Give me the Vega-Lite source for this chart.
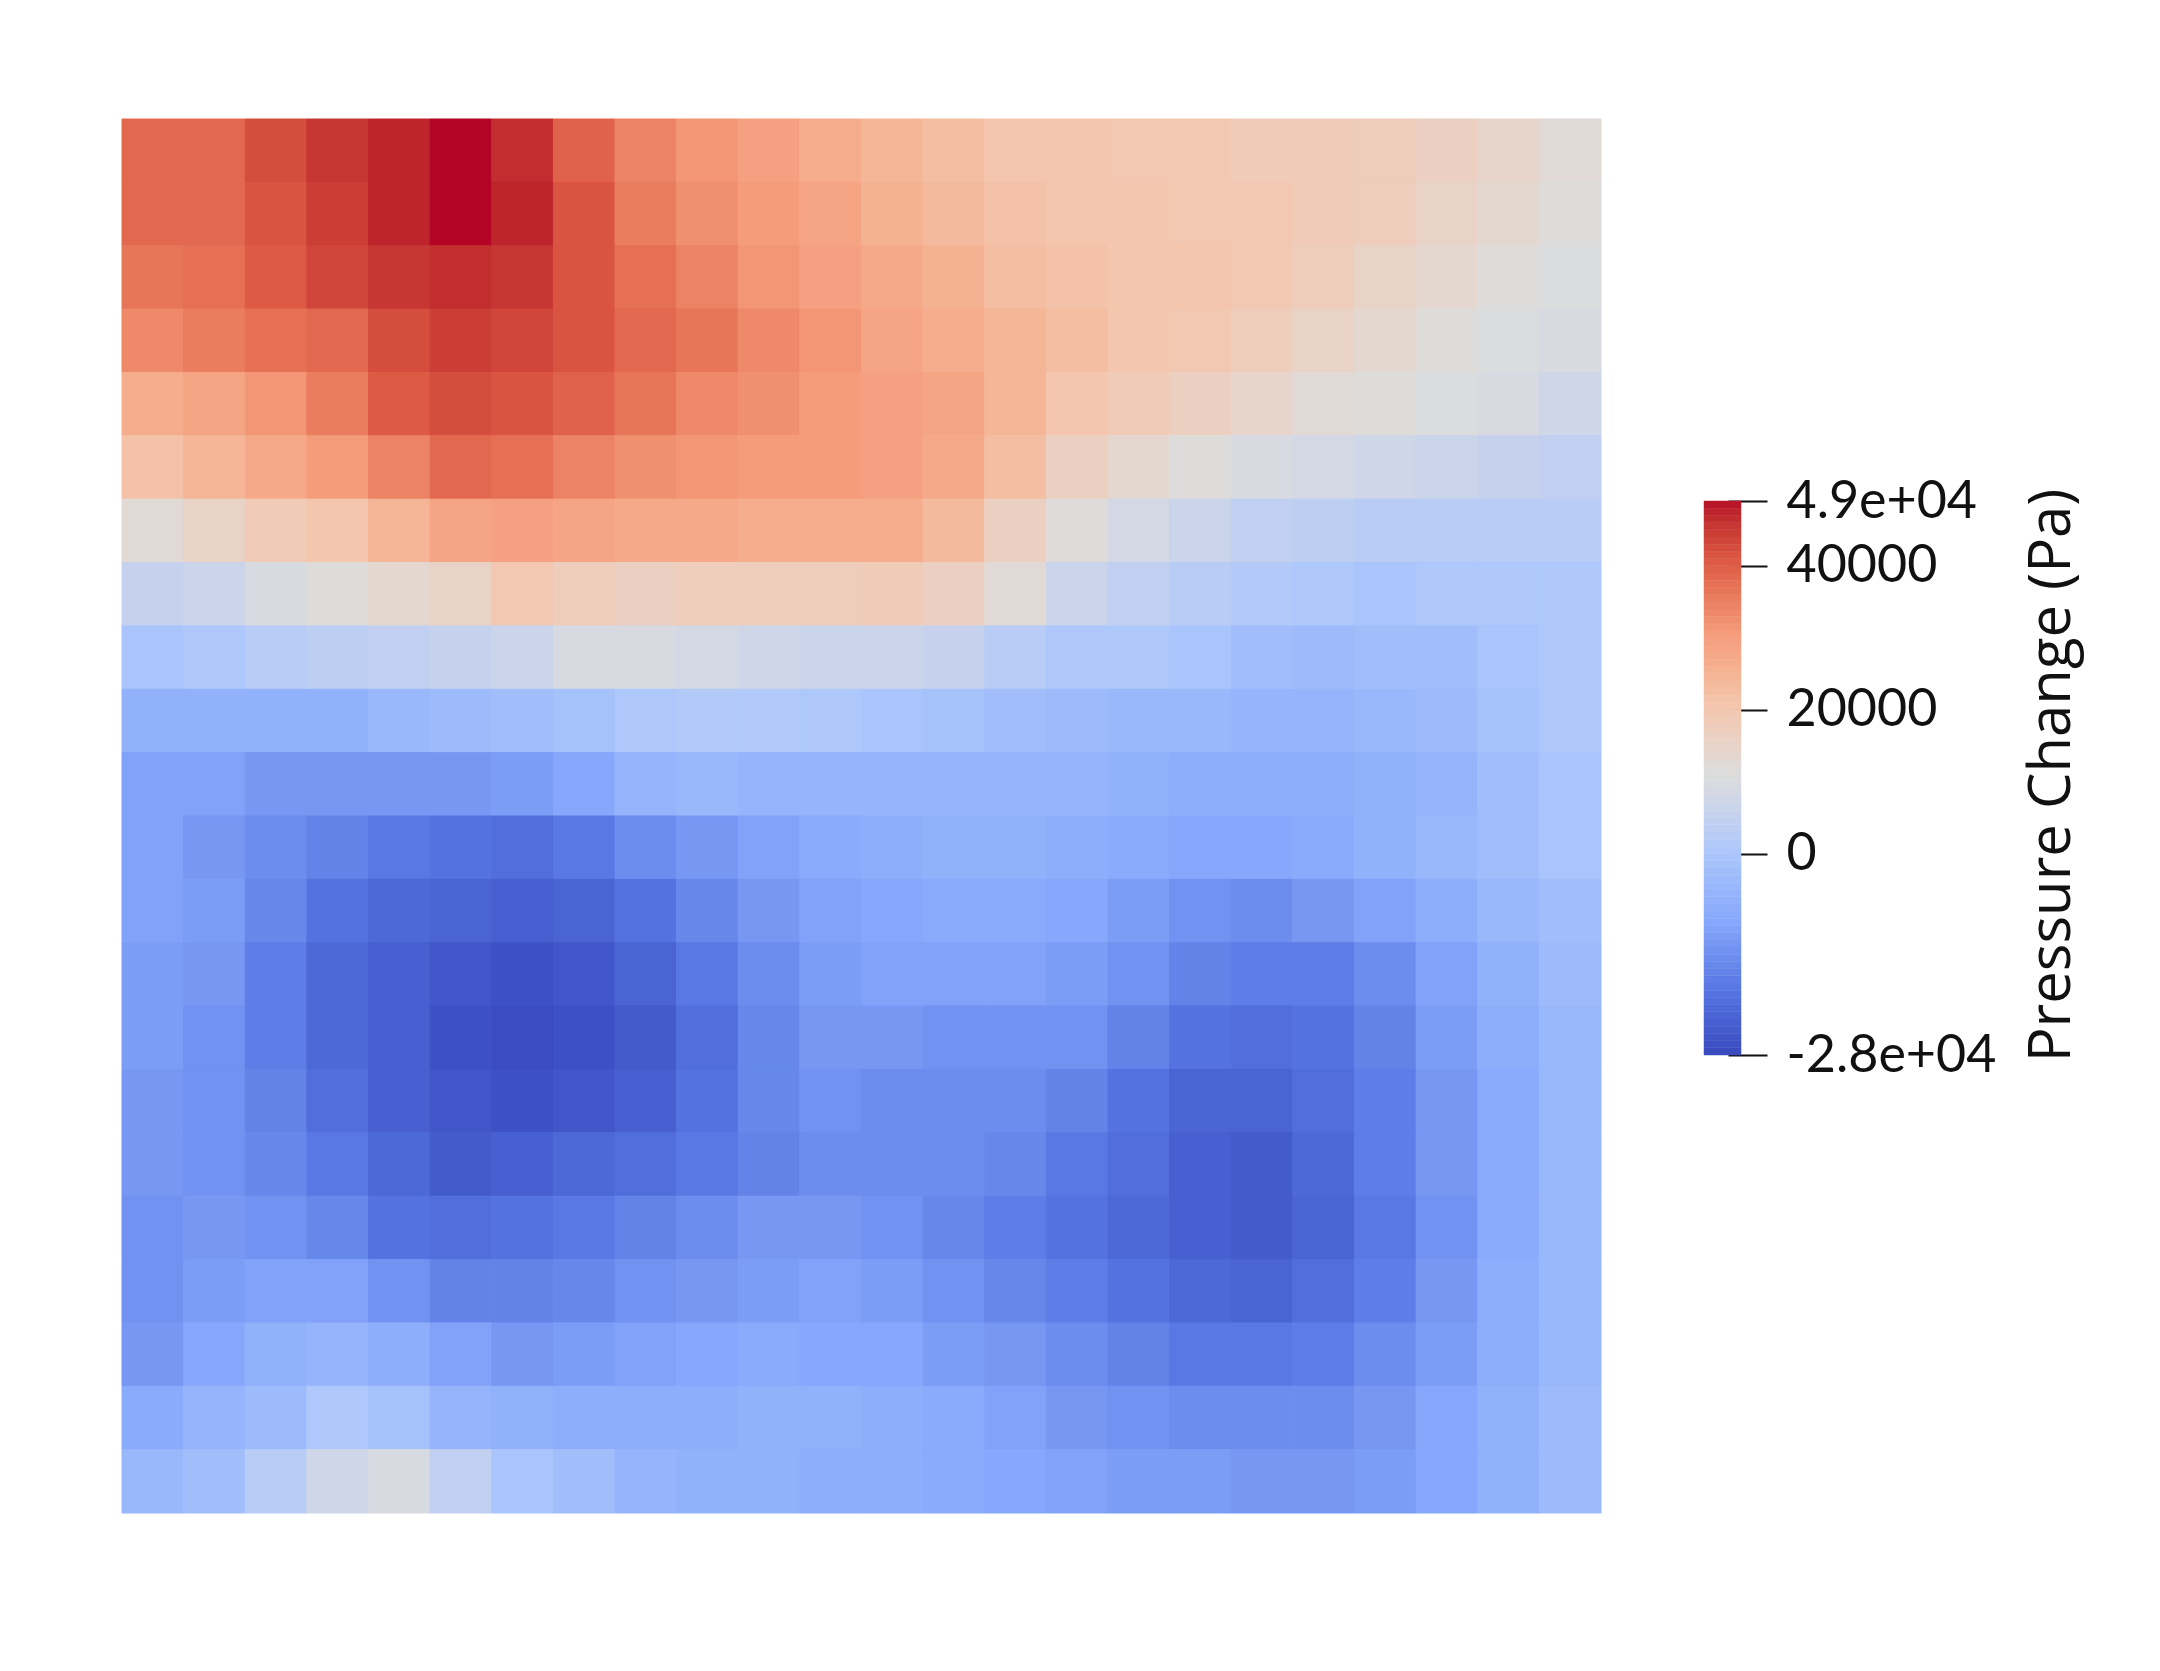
{"$schema":"https://vega.github.io/schema/vega-lite/v6.json","background":"white","padding":{"left":121,"top":118,"right":70,"bottom":20},"spacing":101,"config":{"view":{"stroke":null}},
"datasets":{"mesh":[
{"col":0,"row":0,"pa":38000},{"col":1,"row":0,"pa":38000},{"col":2,"row":0,"pa":42000},{"col":3,"row":0,"pa":45000},{"col":4,"row":0,"pa":47000},{"col":5,"row":0,"pa":49000},{"col":6,"row":0,"pa":46000},{"col":7,"row":0,"pa":39000},{"col":8,"row":0,"pa":34000},{"col":9,"row":0,"pa":31000},{"col":10,"row":0,"pa":29000},{"col":11,"row":0,"pa":26000},{"col":12,"row":0,"pa":24000},{"col":13,"row":0,"pa":22000},{"col":14,"row":0,"pa":20000},{"col":15,"row":0,"pa":20000},{"col":16,"row":0,"pa":19000},{"col":17,"row":0,"pa":19000},{"col":18,"row":0,"pa":18000},{"col":19,"row":0,"pa":18000},{"col":20,"row":0,"pa":17000},{"col":21,"row":0,"pa":16000},{"col":22,"row":0,"pa":14000},{"col":23,"row":0,"pa":12000},
{"col":0,"row":1,"pa":38000},{"col":1,"row":1,"pa":38000},{"col":2,"row":1,"pa":41000},{"col":3,"row":1,"pa":44000},{"col":4,"row":1,"pa":47000},{"col":5,"row":1,"pa":49000},{"col":6,"row":1,"pa":47000},{"col":7,"row":1,"pa":41000},{"col":8,"row":1,"pa":35000},{"col":9,"row":1,"pa":32000},{"col":10,"row":1,"pa":30000},{"col":11,"row":1,"pa":28000},{"col":12,"row":1,"pa":25000},{"col":13,"row":1,"pa":23000},{"col":14,"row":1,"pa":21000},{"col":15,"row":1,"pa":20000},{"col":16,"row":1,"pa":20000},{"col":17,"row":1,"pa":19000},{"col":18,"row":1,"pa":19000},{"col":19,"row":1,"pa":18000},{"col":20,"row":1,"pa":17000},{"col":21,"row":1,"pa":15000},{"col":22,"row":1,"pa":13000},{"col":23,"row":1,"pa":11000},
{"col":0,"row":2,"pa":36000},{"col":1,"row":2,"pa":37000},{"col":2,"row":2,"pa":40000},{"col":3,"row":2,"pa":43000},{"col":4,"row":2,"pa":45000},{"col":5,"row":2,"pa":46000},{"col":6,"row":2,"pa":45000},{"col":7,"row":2,"pa":41000},{"col":8,"row":2,"pa":37000},{"col":9,"row":2,"pa":34000},{"col":10,"row":2,"pa":31000},{"col":11,"row":2,"pa":29000},{"col":12,"row":2,"pa":27000},{"col":13,"row":2,"pa":25000},{"col":14,"row":2,"pa":22000},{"col":15,"row":2,"pa":21000},{"col":16,"row":2,"pa":20000},{"col":17,"row":2,"pa":20000},{"col":18,"row":2,"pa":19000},{"col":19,"row":2,"pa":17000},{"col":20,"row":2,"pa":15000},{"col":21,"row":2,"pa":13000},{"col":22,"row":2,"pa":11000},{"col":23,"row":2,"pa":10000},
{"col":0,"row":3,"pa":33000},{"col":1,"row":3,"pa":35000},{"col":2,"row":3,"pa":37000},{"col":3,"row":3,"pa":38000},{"col":4,"row":3,"pa":42000},{"col":5,"row":3,"pa":44000},{"col":6,"row":3,"pa":43000},{"col":7,"row":3,"pa":41000},{"col":8,"row":3,"pa":38000},{"col":9,"row":3,"pa":36000},{"col":10,"row":3,"pa":33000},{"col":11,"row":3,"pa":31000},{"col":12,"row":3,"pa":28000},{"col":13,"row":3,"pa":26000},{"col":14,"row":3,"pa":24000},{"col":15,"row":3,"pa":22000},{"col":16,"row":3,"pa":20000},{"col":17,"row":3,"pa":19000},{"col":18,"row":3,"pa":17000},{"col":19,"row":3,"pa":15000},{"col":20,"row":3,"pa":13000},{"col":21,"row":3,"pa":11000},{"col":22,"row":3,"pa":10000},{"col":23,"row":3,"pa":9000},
{"col":0,"row":4,"pa":26000},{"col":1,"row":4,"pa":28000},{"col":2,"row":4,"pa":31000},{"col":3,"row":4,"pa":35000},{"col":4,"row":4,"pa":40000},{"col":5,"row":4,"pa":42000},{"col":6,"row":4,"pa":41000},{"col":7,"row":4,"pa":39000},{"col":8,"row":4,"pa":36000},{"col":9,"row":4,"pa":33000},{"col":10,"row":4,"pa":32000},{"col":11,"row":4,"pa":30000},{"col":12,"row":4,"pa":29000},{"col":13,"row":4,"pa":28000},{"col":14,"row":4,"pa":24000},{"col":15,"row":4,"pa":20000},{"col":16,"row":4,"pa":18000},{"col":17,"row":4,"pa":16000},{"col":18,"row":4,"pa":14000},{"col":19,"row":4,"pa":12000},{"col":20,"row":4,"pa":11000},{"col":21,"row":4,"pa":10000},{"col":22,"row":4,"pa":9000},{"col":23,"row":4,"pa":7000},
{"col":0,"row":5,"pa":21000},{"col":1,"row":5,"pa":24000},{"col":2,"row":5,"pa":27000},{"col":3,"row":5,"pa":30000},{"col":4,"row":5,"pa":34000},{"col":5,"row":5,"pa":38000},{"col":6,"row":5,"pa":37000},{"col":7,"row":5,"pa":34000},{"col":8,"row":5,"pa":32000},{"col":9,"row":5,"pa":31000},{"col":10,"row":5,"pa":30000},{"col":11,"row":5,"pa":30000},{"col":12,"row":5,"pa":29000},{"col":13,"row":5,"pa":27000},{"col":14,"row":5,"pa":22000},{"col":15,"row":5,"pa":16000},{"col":16,"row":5,"pa":13000},{"col":17,"row":5,"pa":11000},{"col":18,"row":5,"pa":9000},{"col":19,"row":5,"pa":8000},{"col":20,"row":5,"pa":7000},{"col":21,"row":5,"pa":6000},{"col":22,"row":5,"pa":5000},{"col":23,"row":5,"pa":4000},
{"col":0,"row":6,"pa":12000},{"col":1,"row":6,"pa":15000},{"col":2,"row":6,"pa":18000},{"col":3,"row":6,"pa":20000},{"col":4,"row":6,"pa":24000},{"col":5,"row":6,"pa":28000},{"col":6,"row":6,"pa":29000},{"col":7,"row":6,"pa":28000},{"col":8,"row":6,"pa":27000},{"col":9,"row":6,"pa":27000},{"col":10,"row":6,"pa":26000},{"col":11,"row":6,"pa":26000},{"col":12,"row":6,"pa":26000},{"col":13,"row":6,"pa":23000},{"col":14,"row":6,"pa":16000},{"col":15,"row":6,"pa":11000},{"col":16,"row":6,"pa":8000},{"col":17,"row":6,"pa":6000},{"col":18,"row":6,"pa":4000},{"col":19,"row":6,"pa":3000},{"col":20,"row":6,"pa":2000},{"col":21,"row":6,"pa":2000},{"col":22,"row":6,"pa":2000},{"col":23,"row":6,"pa":2000},
{"col":0,"row":7,"pa":5000},{"col":1,"row":7,"pa":6000},{"col":2,"row":7,"pa":9000},{"col":3,"row":7,"pa":11000},{"col":4,"row":7,"pa":13000},{"col":5,"row":7,"pa":15000},{"col":6,"row":7,"pa":19000},{"col":7,"row":7,"pa":17000},{"col":8,"row":7,"pa":16000},{"col":9,"row":7,"pa":17000},{"col":10,"row":7,"pa":17000},{"col":11,"row":7,"pa":17000},{"col":12,"row":7,"pa":18000},{"col":13,"row":7,"pa":16000},{"col":14,"row":7,"pa":12000},{"col":15,"row":7,"pa":6000},{"col":16,"row":7,"pa":4000},{"col":17,"row":7,"pa":2000},{"col":18,"row":7,"pa":1000},{"col":19,"row":7,"pa":0},{"col":20,"row":7,"pa":-1000},{"col":21,"row":7,"pa":0},{"col":22,"row":7,"pa":0},{"col":23,"row":7,"pa":0},
{"col":0,"row":8,"pa":-1000},{"col":1,"row":8,"pa":0},{"col":2,"row":8,"pa":2000},{"col":3,"row":8,"pa":3000},{"col":4,"row":8,"pa":4000},{"col":5,"row":8,"pa":5000},{"col":6,"row":8,"pa":6000},{"col":7,"row":8,"pa":9000},{"col":8,"row":8,"pa":9000},{"col":9,"row":8,"pa":8000},{"col":10,"row":8,"pa":7000},{"col":11,"row":8,"pa":6000},{"col":12,"row":8,"pa":6000},{"col":13,"row":8,"pa":5000},{"col":14,"row":8,"pa":2000},{"col":15,"row":8,"pa":0},{"col":16,"row":8,"pa":0},{"col":17,"row":8,"pa":-1000},{"col":18,"row":8,"pa":-3000},{"col":19,"row":8,"pa":-4000},{"col":20,"row":8,"pa":-3000},{"col":21,"row":8,"pa":-3000},{"col":22,"row":8,"pa":-1000},{"col":23,"row":8,"pa":0},
{"col":0,"row":9,"pa":-7000},{"col":1,"row":9,"pa":-7000},{"col":2,"row":9,"pa":-7000},{"col":3,"row":9,"pa":-7000},{"col":4,"row":9,"pa":-5000},{"col":5,"row":9,"pa":-4000},{"col":6,"row":9,"pa":-3000},{"col":7,"row":9,"pa":-2000},{"col":8,"row":9,"pa":0},{"col":9,"row":9,"pa":1000},{"col":10,"row":9,"pa":1000},{"col":11,"row":9,"pa":0},{"col":12,"row":9,"pa":-1000},{"col":13,"row":9,"pa":-2000},{"col":14,"row":9,"pa":-3000},{"col":15,"row":9,"pa":-4000},{"col":16,"row":9,"pa":-5000},{"col":17,"row":9,"pa":-5000},{"col":18,"row":9,"pa":-6000},{"col":19,"row":9,"pa":-6000},{"col":20,"row":9,"pa":-5000},{"col":21,"row":9,"pa":-4000},{"col":22,"row":9,"pa":-2000},{"col":23,"row":9,"pa":0},
{"col":0,"row":10,"pa":-11000},{"col":1,"row":10,"pa":-11000},{"col":2,"row":10,"pa":-13000},{"col":3,"row":10,"pa":-13000},{"col":4,"row":10,"pa":-13000},{"col":5,"row":10,"pa":-13000},{"col":6,"row":10,"pa":-12000},{"col":7,"row":10,"pa":-10000},{"col":8,"row":10,"pa":-6000},{"col":9,"row":10,"pa":-5000},{"col":10,"row":10,"pa":-6000},{"col":11,"row":10,"pa":-6000},{"col":12,"row":10,"pa":-6000},{"col":13,"row":10,"pa":-6000},{"col":14,"row":10,"pa":-6000},{"col":15,"row":10,"pa":-6000},{"col":16,"row":10,"pa":-7000},{"col":17,"row":10,"pa":-8000},{"col":18,"row":10,"pa":-8000},{"col":19,"row":10,"pa":-8000},{"col":20,"row":10,"pa":-7000},{"col":21,"row":10,"pa":-6000},{"col":22,"row":10,"pa":-3000},{"col":23,"row":10,"pa":-1000},
{"col":0,"row":11,"pa":-11000},{"col":1,"row":11,"pa":-13000},{"col":2,"row":11,"pa":-15000},{"col":3,"row":11,"pa":-17000},{"col":4,"row":11,"pa":-19000},{"col":5,"row":11,"pa":-20000},{"col":6,"row":11,"pa":-21000},{"col":7,"row":11,"pa":-19000},{"col":8,"row":11,"pa":-15000},{"col":9,"row":11,"pa":-13000},{"col":10,"row":11,"pa":-11000},{"col":11,"row":11,"pa":-9000},{"col":12,"row":11,"pa":-8000},{"col":13,"row":11,"pa":-7000},{"col":14,"row":11,"pa":-7000},{"col":15,"row":11,"pa":-8000},{"col":16,"row":11,"pa":-9000},{"col":17,"row":11,"pa":-10000},{"col":18,"row":11,"pa":-10000},{"col":19,"row":11,"pa":-9000},{"col":20,"row":11,"pa":-7000},{"col":21,"row":11,"pa":-5000},{"col":22,"row":11,"pa":-3000},{"col":23,"row":11,"pa":-1000},
{"col":0,"row":12,"pa":-11000},{"col":1,"row":12,"pa":-12000},{"col":2,"row":12,"pa":-16000},{"col":3,"row":12,"pa":-20000},{"col":4,"row":12,"pa":-22000},{"col":5,"row":12,"pa":-23000},{"col":6,"row":12,"pa":-24000},{"col":7,"row":12,"pa":-23000},{"col":8,"row":12,"pa":-20000},{"col":9,"row":12,"pa":-16000},{"col":10,"row":12,"pa":-13000},{"col":11,"row":12,"pa":-11000},{"col":12,"row":12,"pa":-10000},{"col":13,"row":12,"pa":-9000},{"col":14,"row":12,"pa":-9000},{"col":15,"row":12,"pa":-10000},{"col":16,"row":12,"pa":-12000},{"col":17,"row":12,"pa":-14000},{"col":18,"row":12,"pa":-15000},{"col":19,"row":12,"pa":-13000},{"col":20,"row":12,"pa":-11000},{"col":21,"row":12,"pa":-8000},{"col":22,"row":12,"pa":-5000},{"col":23,"row":12,"pa":-3000},
{"col":0,"row":13,"pa":-12000},{"col":1,"row":13,"pa":-13000},{"col":2,"row":13,"pa":-18000},{"col":3,"row":13,"pa":-22000},{"col":4,"row":13,"pa":-24000},{"col":5,"row":13,"pa":-26000},{"col":6,"row":13,"pa":-27000},{"col":7,"row":13,"pa":-26000},{"col":8,"row":13,"pa":-23000},{"col":9,"row":13,"pa":-19000},{"col":10,"row":13,"pa":-15000},{"col":11,"row":13,"pa":-12000},{"col":12,"row":13,"pa":-11000},{"col":13,"row":13,"pa":-11000},{"col":14,"row":13,"pa":-11000},{"col":15,"row":13,"pa":-12000},{"col":16,"row":13,"pa":-14000},{"col":17,"row":13,"pa":-17000},{"col":18,"row":13,"pa":-18000},{"col":19,"row":13,"pa":-18000},{"col":20,"row":13,"pa":-15000},{"col":21,"row":13,"pa":-11000},{"col":22,"row":13,"pa":-7000},{"col":23,"row":13,"pa":-4000},
{"col":0,"row":14,"pa":-12000},{"col":1,"row":14,"pa":-14000},{"col":2,"row":14,"pa":-18000},{"col":3,"row":14,"pa":-22000},{"col":4,"row":14,"pa":-24000},{"col":5,"row":14,"pa":-27000},{"col":6,"row":14,"pa":-28000},{"col":7,"row":14,"pa":-27000},{"col":8,"row":14,"pa":-25000},{"col":9,"row":14,"pa":-21000},{"col":10,"row":14,"pa":-16000},{"col":11,"row":14,"pa":-13000},{"col":12,"row":14,"pa":-13000},{"col":13,"row":14,"pa":-14000},{"col":14,"row":14,"pa":-14000},{"col":15,"row":14,"pa":-14000},{"col":16,"row":14,"pa":-17000},{"col":17,"row":14,"pa":-20000},{"col":18,"row":14,"pa":-21000},{"col":19,"row":14,"pa":-20000},{"col":20,"row":14,"pa":-17000},{"col":21,"row":14,"pa":-12000},{"col":22,"row":14,"pa":-8000},{"col":23,"row":14,"pa":-5000},
{"col":0,"row":15,"pa":-13000},{"col":1,"row":15,"pa":-14000},{"col":2,"row":15,"pa":-17000},{"col":3,"row":15,"pa":-21000},{"col":4,"row":15,"pa":-24000},{"col":5,"row":15,"pa":-26000},{"col":6,"row":15,"pa":-27000},{"col":7,"row":15,"pa":-26000},{"col":8,"row":15,"pa":-24000},{"col":9,"row":15,"pa":-20000},{"col":10,"row":15,"pa":-16000},{"col":11,"row":15,"pa":-14000},{"col":12,"row":15,"pa":-15000},{"col":13,"row":15,"pa":-15000},{"col":14,"row":15,"pa":-15000},{"col":15,"row":15,"pa":-17000},{"col":16,"row":15,"pa":-20000},{"col":17,"row":15,"pa":-23000},{"col":18,"row":15,"pa":-23000},{"col":19,"row":15,"pa":-21000},{"col":20,"row":15,"pa":-18000},{"col":21,"row":15,"pa":-13000},{"col":22,"row":15,"pa":-9000},{"col":23,"row":15,"pa":-5000},
{"col":0,"row":16,"pa":-13000},{"col":1,"row":16,"pa":-14000},{"col":2,"row":16,"pa":-16000},{"col":3,"row":16,"pa":-19000},{"col":4,"row":16,"pa":-22000},{"col":5,"row":16,"pa":-25000},{"col":6,"row":16,"pa":-24000},{"col":7,"row":16,"pa":-22000},{"col":8,"row":16,"pa":-21000},{"col":9,"row":16,"pa":-19000},{"col":10,"row":16,"pa":-17000},{"col":11,"row":16,"pa":-15000},{"col":12,"row":16,"pa":-15000},{"col":13,"row":16,"pa":-15000},{"col":14,"row":16,"pa":-16000},{"col":15,"row":16,"pa":-19000},{"col":16,"row":16,"pa":-21000},{"col":17,"row":16,"pa":-24000},{"col":18,"row":16,"pa":-25000},{"col":19,"row":16,"pa":-22000},{"col":20,"row":16,"pa":-18000},{"col":21,"row":16,"pa":-13000},{"col":22,"row":16,"pa":-9000},{"col":23,"row":16,"pa":-5000},
{"col":0,"row":17,"pa":-14000},{"col":1,"row":17,"pa":-13000},{"col":2,"row":17,"pa":-14000},{"col":3,"row":17,"pa":-16000},{"col":4,"row":17,"pa":-20000},{"col":5,"row":17,"pa":-21000},{"col":6,"row":17,"pa":-20000},{"col":7,"row":17,"pa":-19000},{"col":8,"row":17,"pa":-17000},{"col":9,"row":17,"pa":-15000},{"col":10,"row":17,"pa":-13000},{"col":11,"row":17,"pa":-13000},{"col":12,"row":17,"pa":-14000},{"col":13,"row":17,"pa":-16000},{"col":14,"row":17,"pa":-18000},{"col":15,"row":17,"pa":-20000},{"col":16,"row":17,"pa":-22000},{"col":17,"row":17,"pa":-24000},{"col":18,"row":17,"pa":-25000},{"col":19,"row":17,"pa":-23000},{"col":20,"row":17,"pa":-19000},{"col":21,"row":17,"pa":-14000},{"col":22,"row":17,"pa":-9000},{"col":23,"row":17,"pa":-5000},
{"col":0,"row":18,"pa":-14000},{"col":1,"row":18,"pa":-12000},{"col":2,"row":18,"pa":-11000},{"col":3,"row":18,"pa":-11000},{"col":4,"row":18,"pa":-14000},{"col":5,"row":18,"pa":-17000},{"col":6,"row":18,"pa":-17000},{"col":7,"row":18,"pa":-16000},{"col":8,"row":18,"pa":-14000},{"col":9,"row":18,"pa":-13000},{"col":10,"row":18,"pa":-12000},{"col":11,"row":18,"pa":-11000},{"col":12,"row":18,"pa":-12000},{"col":13,"row":18,"pa":-14000},{"col":14,"row":18,"pa":-16000},{"col":15,"row":18,"pa":-18000},{"col":16,"row":18,"pa":-20000},{"col":17,"row":18,"pa":-22000},{"col":18,"row":18,"pa":-23000},{"col":19,"row":18,"pa":-21000},{"col":20,"row":18,"pa":-18000},{"col":21,"row":18,"pa":-13000},{"col":22,"row":18,"pa":-8000},{"col":23,"row":18,"pa":-5000},
{"col":0,"row":19,"pa":-13000},{"col":1,"row":19,"pa":-10000},{"col":2,"row":19,"pa":-7000},{"col":3,"row":19,"pa":-6000},{"col":4,"row":19,"pa":-8000},{"col":5,"row":19,"pa":-11000},{"col":6,"row":19,"pa":-13000},{"col":7,"row":19,"pa":-12000},{"col":8,"row":19,"pa":-11000},{"col":9,"row":19,"pa":-10000},{"col":10,"row":19,"pa":-9000},{"col":11,"row":19,"pa":-10000},{"col":12,"row":19,"pa":-10000},{"col":13,"row":19,"pa":-12000},{"col":14,"row":19,"pa":-13000},{"col":15,"row":19,"pa":-15000},{"col":16,"row":19,"pa":-17000},{"col":17,"row":19,"pa":-19000},{"col":18,"row":19,"pa":-19000},{"col":19,"row":19,"pa":-18000},{"col":20,"row":19,"pa":-15000},{"col":21,"row":19,"pa":-12000},{"col":22,"row":19,"pa":-8000},{"col":23,"row":19,"pa":-5000},
{"col":0,"row":20,"pa":-9000},{"col":1,"row":20,"pa":-6000},{"col":2,"row":20,"pa":-4000},{"col":3,"row":20,"pa":0},{"col":4,"row":20,"pa":-2000},{"col":5,"row":20,"pa":-6000},{"col":6,"row":20,"pa":-7000},{"col":7,"row":20,"pa":-8000},{"col":8,"row":20,"pa":-8000},{"col":9,"row":20,"pa":-8000},{"col":10,"row":20,"pa":-7000},{"col":11,"row":20,"pa":-7000},{"col":12,"row":20,"pa":-8000},{"col":13,"row":20,"pa":-9000},{"col":14,"row":20,"pa":-11000},{"col":15,"row":20,"pa":-13000},{"col":16,"row":20,"pa":-14000},{"col":17,"row":20,"pa":-15000},{"col":18,"row":20,"pa":-15000},{"col":19,"row":20,"pa":-15000},{"col":20,"row":20,"pa":-13000},{"col":21,"row":20,"pa":-10000},{"col":22,"row":20,"pa":-7000},{"col":23,"row":20,"pa":-4000},
{"col":0,"row":21,"pa":-5000},{"col":1,"row":21,"pa":-3000},{"col":2,"row":21,"pa":2000},{"col":3,"row":21,"pa":7000},{"col":4,"row":21,"pa":9000},{"col":5,"row":21,"pa":4000},{"col":6,"row":21,"pa":-1000},{"col":7,"row":21,"pa":-3000},{"col":8,"row":21,"pa":-6000},{"col":9,"row":21,"pa":-7000},{"col":10,"row":21,"pa":-7000},{"col":11,"row":21,"pa":-8000},{"col":12,"row":21,"pa":-8000},{"col":13,"row":21,"pa":-9000},{"col":14,"row":21,"pa":-10000},{"col":15,"row":21,"pa":-11000},{"col":16,"row":21,"pa":-12000},{"col":17,"row":21,"pa":-12000},{"col":18,"row":21,"pa":-13000},{"col":19,"row":21,"pa":-13000},{"col":20,"row":21,"pa":-12000},{"col":21,"row":21,"pa":-10000},{"col":22,"row":21,"pa":-7000},{"col":23,"row":21,"pa":-4000}
],
"bar":[{"lo":-28000,"hi":-27000},{"lo":-27000,"hi":-26000},{"lo":-26000,"hi":-25000},{"lo":-25000,"hi":-24000},{"lo":-24000,"hi":-23000},{"lo":-23000,"hi":-22000},{"lo":-22000,"hi":-21000},{"lo":-21000,"hi":-20000},{"lo":-20000,"hi":-19000},{"lo":-19000,"hi":-18000},{"lo":-18000,"hi":-17000},{"lo":-17000,"hi":-16000},{"lo":-16000,"hi":-15000},{"lo":-15000,"hi":-14000},{"lo":-14000,"hi":-13000},{"lo":-13000,"hi":-12000},{"lo":-12000,"hi":-11000},{"lo":-11000,"hi":-10000},{"lo":-10000,"hi":-9000},{"lo":-9000,"hi":-8000},{"lo":-8000,"hi":-7000},{"lo":-7000,"hi":-6000},{"lo":-6000,"hi":-5000},{"lo":-5000,"hi":-4000},{"lo":-4000,"hi":-3000},{"lo":-3000,"hi":-2000},{"lo":-2000,"hi":-1000},{"lo":-1000,"hi":0},{"lo":0,"hi":1000},{"lo":1000,"hi":2000},{"lo":2000,"hi":3000},{"lo":3000,"hi":4000},{"lo":4000,"hi":5000},{"lo":5000,"hi":6000},{"lo":6000,"hi":7000},{"lo":7000,"hi":8000},{"lo":8000,"hi":9000},{"lo":9000,"hi":10000},{"lo":10000,"hi":11000},{"lo":11000,"hi":12000},{"lo":12000,"hi":13000},{"lo":13000,"hi":14000},{"lo":14000,"hi":15000},{"lo":15000,"hi":16000},{"lo":16000,"hi":17000},{"lo":17000,"hi":18000},{"lo":18000,"hi":19000},{"lo":19000,"hi":20000},{"lo":20000,"hi":21000},{"lo":21000,"hi":22000},{"lo":22000,"hi":23000},{"lo":23000,"hi":24000},{"lo":24000,"hi":25000},{"lo":25000,"hi":26000},{"lo":26000,"hi":27000},{"lo":27000,"hi":28000},{"lo":28000,"hi":29000},{"lo":29000,"hi":30000},{"lo":30000,"hi":31000},{"lo":31000,"hi":32000},{"lo":32000,"hi":33000},{"lo":33000,"hi":34000},{"lo":34000,"hi":35000},{"lo":35000,"hi":36000},{"lo":36000,"hi":37000},{"lo":37000,"hi":38000},{"lo":38000,"hi":39000},{"lo":39000,"hi":40000},{"lo":40000,"hi":41000},{"lo":41000,"hi":42000},{"lo":42000,"hi":43000},{"lo":43000,"hi":44000},{"lo":44000,"hi":45000},{"lo":45000,"hi":46000},{"lo":46000,"hi":47000},{"lo":47000,"hi":48000},{"lo":48000,"hi":49000}]},
"hconcat":[
{"width":1479,"height":1394,"data":{"name":"mesh"},"mark":{"type":"rect","strokeWidth":1},
"encoding":{"x":{"field":"col","type":"ordinal","axis":null,"scale":{"paddingInner":0,"paddingOuter":0}},"y":{"field":"row","type":"ordinal","axis":null,"scale":{"paddingInner":0,"paddingOuter":0}},
"color":{"field":"pa","type":"quantitative","legend":null,"scale":{"domain":[-28000,-20000,-10000,0,10500,20000,30000,40000,49000],"range":["#3b4cc0","#5473e0","#86a7fb","#aec8fb","#dddddd","#f4c6ad","#f59c7b","#dd5b45","#b40426"]}},
"stroke":{"field":"pa","type":"quantitative","legend":null,"scale":{"domain":[-28000,-20000,-10000,0,10500,20000,30000,40000,49000],"range":["#3b4cc0","#5473e0","#86a7fb","#aec8fb","#dddddd","#f4c6ad","#f59c7b","#dd5b45","#b40426"]}}}},
{"width":37,"height":1394,"data":{"name":"bar"},"mark":{"type":"rect","strokeWidth":0.5},
"encoding":{"y":{"field":"lo","type":"quantitative","scale":{"domain":[-91660,102100],"nice":false,"zero":false},
"axis":{"orient":"right","offset":-13,"values":[-28000,0,20000,40000,49000],"labelExpr":"datum.value==49000?'4.9e+04':datum.value==-28000?'-2.8e+04':format(datum.value,'d')","grid":false,"domain":false,"tickSize":39,"tickWidth":2,"tickColor":"#111111","labelPadding":19,"labelFont":"Lato","labelFontSize":52,"labelLimit":500,"labelColor":"#111111","title":"Pressure Change (Pa)","titleFont":"Open Sans","titleFontSize":58,"titleFontWeight":"normal","titleColor":"#111111","titleAngle":270,"titleX":324,"titleY":656,"titleAlign":"center","titleBaseline":"middle","titleLimit":800}},"y2":{"field":"hi"},
"color":{"field":"lo","type":"quantitative","legend":null,"scale":{"domain":[-28000,-20000,-10000,0,10500,20000,30000,40000,49000],"range":["#3b4cc0","#5473e0","#86a7fb","#aec8fb","#dddddd","#f4c6ad","#f59c7b","#dd5b45","#b40426"]}},
"stroke":{"field":"lo","type":"quantitative","legend":null,"scale":{"domain":[-28000,-20000,-10000,0,10500,20000,30000,40000,49000],"range":["#3b4cc0","#5473e0","#86a7fb","#aec8fb","#dddddd","#f4c6ad","#f59c7b","#dd5b45","#b40426"]}}}}
],"resolve":{"scale":{"color":"independent","stroke":"independent","y":"independent","x":"independent"}}}
